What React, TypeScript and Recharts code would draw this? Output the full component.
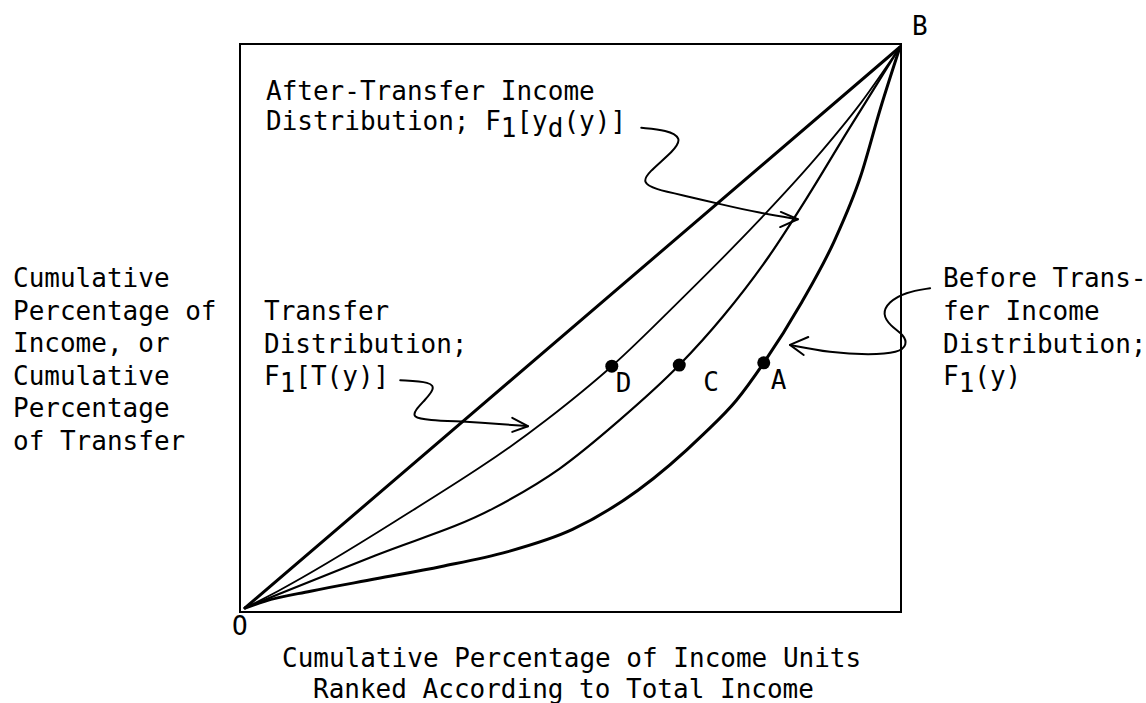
import { ComposedChart, Line, Scatter, XAxis, YAxis, ReferenceArea } from "recharts";

// Lorenz-type curves, x = cumulative share of income units, y = cumulative share
const equality = [
  { x: 0, y: 0 },
  { x: 1, y: 1 },
];

// D curve: transfer distribution F1[T(y)]
const transferCurve = [
  { x: 0, y: 0 },
  { x: 0.05, y: 0.03 },
  { x: 0.23, y: 0.155 },
  { x: 0.46, y: 0.335 },
  { x: 0.56, y: 0.431 },
  { x: 0.67, y: 0.555 },
  { x: 0.78, y: 0.685 },
  { x: 0.87, y: 0.8 },
  { x: 0.94, y: 0.9 },
  { x: 1, y: 1 },
];

// C curve: after-transfer income distribution F1[yd(y)]
const afterCurve = [
  { x: 0, y: 0 },
  { x: 0.05, y: 0.024 },
  { x: 0.2, y: 0.094 },
  { x: 0.38, y: 0.178 },
  { x: 0.48, y: 0.248 },
  { x: 0.57, y: 0.333 },
  { x: 0.663, y: 0.433 },
  { x: 0.73, y: 0.52 },
  { x: 0.8, y: 0.627 },
  { x: 0.86, y: 0.735 },
  { x: 0.92, y: 0.85 },
  { x: 0.96, y: 0.925 },
  { x: 1, y: 1 },
];

// A curve: before-transfer income distribution F1(y)
const beforeCurve = [
  { x: 0, y: 0 },
  { x: 0.03, y: 0.012 },
  { x: 0.1, y: 0.03 },
  { x: 0.2, y: 0.052 },
  { x: 0.3, y: 0.074 },
  { x: 0.4, y: 0.1 },
  { x: 0.5, y: 0.14 },
  { x: 0.6, y: 0.21 },
  { x: 0.7, y: 0.31 },
  { x: 0.75, y: 0.37 },
  { x: 0.792, y: 0.437 },
  { x: 0.85, y: 0.545 },
  { x: 0.9, y: 0.655 },
  { x: 0.94, y: 0.77 },
  { x: 0.97, y: 0.89 },
  { x: 1, y: 1 },
];

const markedPoints = [
  { x: 0.56, y: 0.431, name: "D" },
  { x: 0.663, y: 0.433, name: "C" },
  { x: 0.792, y: 0.437, name: "A" },
];

// hand-drawn pointer arrows (in the same data units)
const arrowAfter = [
  { x: 0.605, y: 0.856 },
  { x: 0.644, y: 0.852 },
  { x: 0.667, y: 0.838 },
  { x: 0.656, y: 0.816 },
  { x: 0.614, y: 0.775 },
  { x: 0.608, y: 0.759 },
  { x: 0.623, y: 0.747 },
  { x: 0.679, y: 0.733 },
  { x: 0.725, y: 0.72 },
  { x: 0.786, y: 0.704 },
  { x: 0.844, y: 0.693 },
];
const arrowAfterHead = [
  { x: 0.818, y: 0.706 },
  { x: 0.844, y: 0.693 },
  { x: 0.817, y: 0.679 },
];

const arrowTransfer = [
  { x: 0.237, y: 0.406 },
  { x: 0.285, y: 0.403 },
  { x: 0.289, y: 0.39 },
  { x: 0.275, y: 0.371 },
  { x: 0.26, y: 0.353 },
  { x: 0.256, y: 0.34 },
  { x: 0.278, y: 0.335 },
  { x: 0.339, y: 0.332 },
  { x: 0.389, y: 0.328 },
  { x: 0.432, y: 0.324 },
];
const arrowTransferHead = [
  { x: 0.408, y: 0.339 },
  { x: 0.432, y: 0.324 },
  { x: 0.408, y: 0.314 },
];

const arrowBefore = [
  { x: 1.046, y: 0.57 },
  { x: 1.008, y: 0.563 },
  { x: 0.982, y: 0.545 },
  { x: 0.973, y: 0.524 },
  { x: 0.985, y: 0.503 },
  { x: 1.006, y: 0.487 },
  { x: 1.011, y: 0.469 },
  { x: 0.998, y: 0.455 },
  { x: 0.954, y: 0.451 },
  { x: 0.893, y: 0.455 },
  { x: 0.832, y: 0.469 },
];
const arrowBeforeHead = [
  { x: 0.86, y: 0.483 },
  { x: 0.832, y: 0.469 },
  { x: 0.853, y: 0.451 },
];

const yAxisLines = [
  "Cumulative",
  "Percentage of",
  "Income, or",
  "Cumulative",
  "Percentage",
  "of Transfer",
];
const xAxisLines = [
  "Cumulative Percentage of Income Units",
  "Ranked According to Total Income",
];
const beforeLines = ["Before Trans-", "fer Income", "Distribution;"];

const X_DOMAIN: [number, number] = [-0.00763, 1.0687];
const Y_DOMAIN: [number, number] = [-0.00713, 1.00535];
const FRAME = { x1: -0.00763, x2: 1.00153, y1: -0.00713, y2: 1.00535 };
const labelDx: Record<string, number> = { D: 4, C: 24, A: 7 };

const FONT = "'DejaVu Sans Mono', monospace";

function PointMark(props: any) {
  const { cx, cy, payload } = props;
  return (
    <g>
      <circle cx={cx} cy={cy} r={6.5} fill="#000" />
      <text
        x={cx + labelDx[payload.name]}
        y={cy + 26}
        fontFamily={FONT}
        fontSize={26}
        fill="#000"
      >
        {payload.name}
      </text>
    </g>
  );
}

function curve(data: { x: number; y: number }[], width: number, type: any = "monotone") {
  return (
    <Line
      data={data}
      dataKey="y"
      type={type}
      stroke="#000"
      strokeWidth={width}
      dot={false}
      activeDot={false}
      isAnimationActive={false}
      strokeLinecap="round"
      strokeLinejoin="round"
    />
  );
}

export default function App() {
  const t = { fontFamily: FONT, fontSize: 26, fill: "#000" };
  return (
    <div style={{ position: "absolute", left: 0, top: 0, width: 1146, height: 703, background: "#fff" }}>
      <ComposedChart
        width={1146}
        height={703}
        margin={{ top: 44, right: 201, bottom: 91, left: 240 }}
      >
        <XAxis dataKey="x" type="number" domain={X_DOMAIN} allowDataOverflow hide />
        <YAxis type="number" domain={Y_DOMAIN} allowDataOverflow hide />
        <ReferenceArea
          x1={FRAME.x1}
          x2={FRAME.x2}
          y1={FRAME.y1}
          y2={FRAME.y2}
          fill="none"
          fillOpacity={0}
          stroke="#000"
          strokeWidth={2}
        />
        {curve(equality, 3, "linear")}
        {curve(transferCurve, 1.8)}
        {curve(afterCurve, 2.2)}
        {curve(beforeCurve, 3)}
        {curve(arrowAfter, 2, "basis")}
        {curve(arrowAfterHead, 2, "linear")}
        {curve(arrowTransfer, 2, "basis")}
        {curve(arrowTransferHead, 2, "linear")}
        {curve(arrowBefore, 2, "basis")}
        {curve(arrowBeforeHead, 2, "linear")}
        <Scatter data={markedPoints} dataKey="y" shape={PointMark} isAnimationActive={false} />
      </ComposedChart>
      <svg
        width={1146}
        height={703}
        style={{ position: "absolute", left: 0, top: 0, pointerEvents: "none" }}
      >
        <text x={912} y={35} {...t}>B</text>
        <text x={232} y={635} {...t}>O</text>
        <text x={266} y={100} {...t}>After-Transfer Income</text>
        <text x={266} y={130} {...t}>
          Distribution; F<tspan dy={7}>1</tspan>
          <tspan dy={-7}>[y</tspan>
          <tspan dy={7}>d</tspan>
          <tspan dy={-7}>(y)]</tspan>
        </text>
        <text x={264} y={320} {...t}>Transfer</text>
        <text x={264} y={353} {...t}>Distribution;</text>
        <text x={264} y={385} {...t}>
          F<tspan dy={7}>1</tspan>
          <tspan dy={-7}>[T(y)]</tspan>
        </text>
        {yAxisLines.map((s, i) => (
          <text key={i} x={13} y={287 + i * 32.6} {...t}>{s}</text>
        ))}
        {beforeLines.map((s, i) => (
          <text key={i} x={943} y={287 + i * 33} {...t}>{s}</text>
        ))}
        <text x={943} y={385} {...t}>
          F<tspan dy={7}>1</tspan>
          <tspan dy={-7}>(y)</tspan>
        </text>
        <text x={282} y={667} {...t}>{xAxisLines[0]}</text>
        <text x={313} y={698} {...t}>{xAxisLines[1]}</text>
      </svg>
    </div>
  );
}
